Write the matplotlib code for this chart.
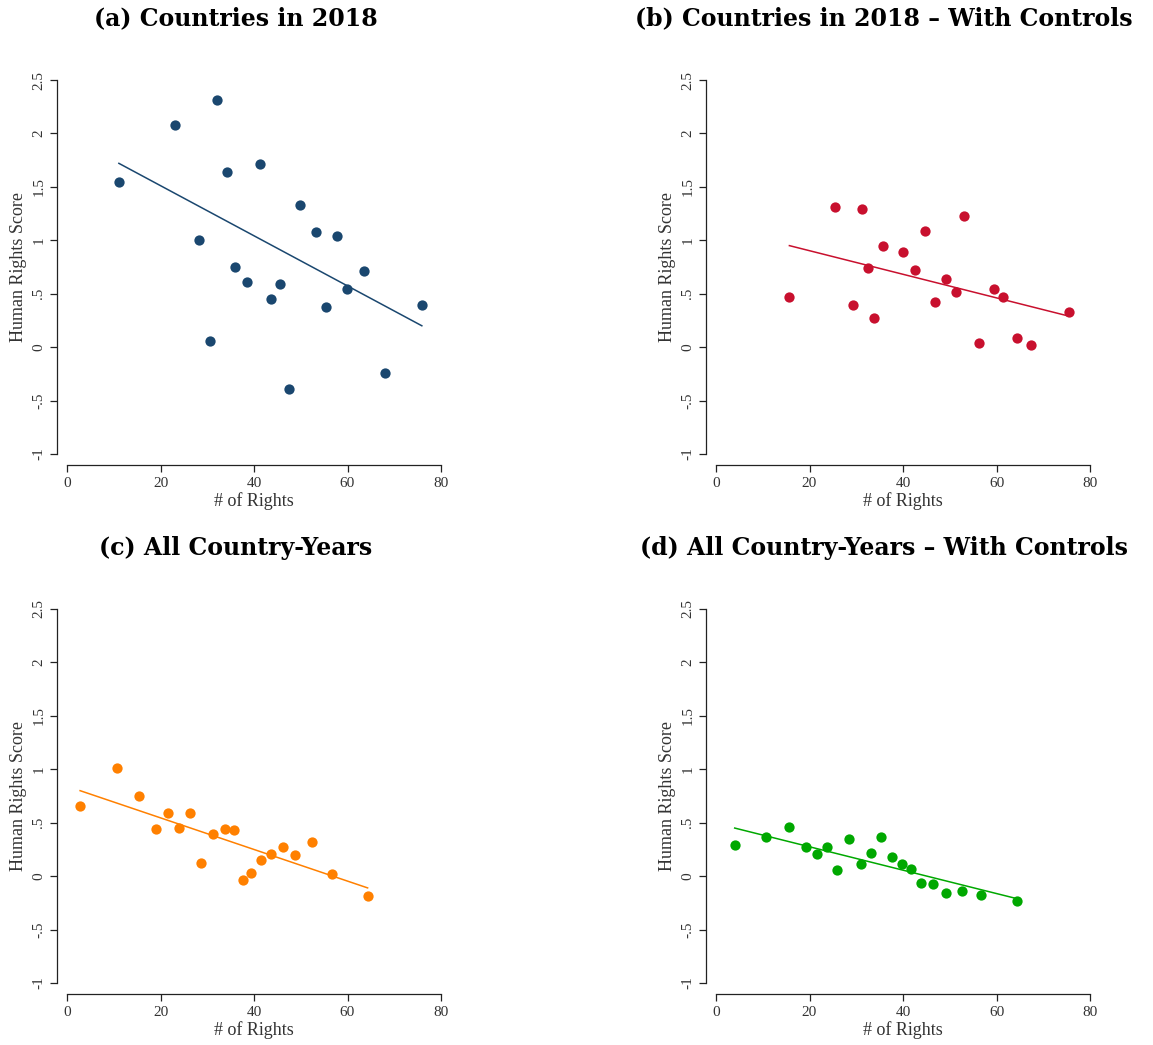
import matplotlib.pyplot as plt
import numpy as np

# Binned scatter values
rights_a = [11.1, 23.2, 32.0, 28.2, 30.5, 34.2, 36.0, 38.4, 41.3, 43.6,
            45.6, 47.4, 49.9, 53.2, 55.5, 57.8, 59.8, 63.5, 68.0, 75.9]
score_a = [1.55, 2.08, 2.31, 1.00, 0.06, 1.64, 0.75, 0.61, 1.71, 0.45,
           0.59, -0.39, 1.33, 1.08, 0.38, 1.04, 0.54, 0.71, -0.24, 0.39]
fit_a = [1.72, 0.20]

rights_b = [15.7, 25.4, 29.2, 31.3, 32.5, 33.8, 35.7, 39.9, 42.6, 44.7,
            46.9, 49.2, 51.4, 53.1, 56.2, 59.5, 61.4, 64.3, 67.3, 75.5]
score_b = [0.47, 1.31, 0.39, 1.29, 0.74, 0.27, 0.95, 0.89, 0.72, 1.09,
           0.42, 0.64, 0.52, 1.23, 0.04, 0.54, 0.47, 0.09, 0.02, 0.33]
fit_b = [0.95, 0.29]

rights_c = [2.8, 10.7, 15.5, 19.1, 21.7, 24.0, 26.3, 28.7, 31.2, 33.7,
            35.7, 37.6, 39.4, 41.4, 43.7, 46.2, 48.8, 52.3, 56.7, 64.3]
score_c = [0.66, 1.01, 0.75, 0.44, 0.59, 0.45, 0.59, 0.12, 0.39, 0.44,
           0.43, -0.04, 0.03, 0.15, 0.21, 0.27, 0.20, 0.32, 0.02, -0.19]
fit_c = [0.80, -0.11]

rights_d = [4.0, 10.8, 15.7, 19.2, 21.6, 23.7, 25.9, 28.4, 31.0, 33.1,
            35.4, 37.6, 39.7, 41.7, 43.9, 46.4, 49.3, 52.6, 56.6, 64.3]
score_d = [0.29, 0.37, 0.46, 0.27, 0.21, 0.27, 0.06, 0.35, 0.11, 0.22,
           0.37, 0.18, 0.11, 0.07, -0.06, -0.07, -0.16, -0.14, -0.18, -0.23]
fit_d = [0.45, -0.21]

titles = ['(a) Countries in 2018',
          '(b) Countries in 2018 \u2013 With Controls',
          '(c) All Country-Years',
          '(d) All Country-Years \u2013 With Controls']
colors = ['#1a476f', '#c8102e', '#ff8000', '#00a800']

y_ticks = [-1, -0.5, 0, 0.5, 1, 1.5, 2, 2.5]
y_tick_labels = ['-1', '-.5', '0', '.5', '1', '1.5', '2', '2.5']
x_ticks = [0, 20, 40, 60, 80]

W, H = 1153, 1045
fig = plt.figure(figsize=(W / 100, H / 100), dpi=100)

serif = ['Liberation Serif', 'DejaVu Serif']
title_font = ['DejaVu Serif']

# axes boxes in pixels: left, top of data area
boxes = [(67, 80), (716, 80), (67, 609), (716, 609)]
title_pos = [(236, 18), (884, 18), (236, 548), (884, 548)]
panels = [(rights_a, score_a, fit_a), (rights_b, score_b, fit_b),
          (rights_c, score_c, fit_c), (rights_d, score_d, fit_d)]


def draw_panel(ax, x, y, fit, color):
    ax.plot(x, y, 'o', color=color, markersize=7.4, markeredgewidth=0, zorder=3)
    ax.plot([min(x), max(x)], fit, '-', color=color, linewidth=1.1, zorder=2)
    ax.set_xlim(0, 80)
    ax.set_ylim(-1, 2.5)
    for side in ['top', 'right']:
        ax.spines[side].set_visible(False)
    ax.spines['left'].set_position(('outward', 7.2))
    ax.spines['bottom'].set_position(('outward', 7.9))
    for side in ['left', 'bottom']:
        ax.spines[side].set_linewidth(0.9)
        ax.spines[side].set_color('#222222')
    ax.set_xticks(x_ticks)
    ax.set_yticks(y_ticks)
    ax.set_yticklabels(y_tick_labels, rotation=90, va='center')
    ax.tick_params(direction='out', length=5, width=0.9, color='#222222',
                   labelsize=11, labelcolor='#333333')
    for lab in ax.get_xticklabels() + ax.get_yticklabels():
        lab.set_family(serif)
    ax.set_xlabel('# of Rights', fontsize=13, family=serif, color='#333333', labelpad=2)
    ax.set_ylabel('Human Rights Score', fontsize=13, family=serif, color='#333333', labelpad=4)


for i, (x, y, fit) in enumerate(panels):
    left, top = boxes[i]
    ax = fig.add_axes([left / W, 1 - (top + 374) / H, 374 / W, 374 / H])
    draw_panel(ax, x, y, fit, colors[i])
    tx, ty = title_pos[i]
    fig.text(tx / W, 1 - ty / H, titles[i], ha='center', va='center',
             fontsize=17, family=title_font, fontweight='bold')

fig.savefig('out.png', dpi=100)
